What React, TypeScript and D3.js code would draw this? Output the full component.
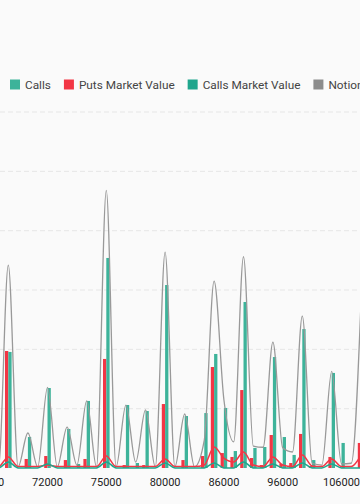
import * as d3 from "d3";
import { useMemo } from "react";

// strikes on the category axis (only every 6th is labelled)
const strikes = [
    "69000", "69500", "70000", "70500", "71000", "71500",
    "72000", "72500", "73000", "73500", "74000", "74500",
    "75000", "75500", "76000", "77000", "78000", "79000",
    "80000", "81000", "82000", "83000", "84000", "85000",
    "86000", "87000", "88000", "90000", "92000", "94000",
    "96000", "98000", "100000", "101000", "102000", "104000",
    "106000", "108000", "110000"
];

const puts = [
    0, 0, 986, 0, 76, 0, 101, 0, 67, 0, 76, 0,
    919, 0, 25, 0, 25, 0, 539, 0, 67, 0, 101, 851,
    126, 93, 657, 84, 25, 278, 34, 42, 287, 17, 0, 93,
    0, 0, 211
];

const calls = [
    0, 0, 978, 0, 261, 0, 674, 0, 329, 34, 565, 0,
    1770, 0, 531, 42, 480, 0, 1542, 0, 438, 0, 463, 961,
    506, 143, 1399, 169, 177, 935, 261, 110, 1171, 67, 0, 801,
    211, 0, 0
];

const putsMarketValue = [
    12, 12, 93, 12, 12, 12, 25, 12, 12, 12, 12, 12,
    101, 12, 12, 12, 12, 12, 76, 12, 12, 12, 25, 177,
    84, 51, 135, 25, 12, 93, 25, 12, 110, 17, 12, 76,
    12, 12, 110
];

const callsMarketValue = [
    1, 1, 51, 1, 1, 1, 34, 1, 1, 1, 1, 1,
    51, 1, 1, 1, 1, 1, 42, 1, 1, 1, 1, 42,
    1, 1, 51, 1, 1, 34, 1, 1, 42, 1, 1, 34,
    1, 1, 1
];

const notional = [
    2, 0.2, 34.2, 0.2, 5.9, 0.2, 13.6, 0.2, 6.9, 0.5, 11.3, 0.2,
    46.8, 0.2, 10.6, 1.0, 9.8, 0.2, 36.4, 0.2, 9.1, 0.2, 4.7, 31.5,
    11.5, 4.4, 35.6, 3.7, 3.5, 21.2, 3.4, 2.7, 25.6, 0.8, 0.5, 16.3,
    0.7, 0.8, 28.3
];

const legendItems = [
    { name: "Puts", color: "#f23645" },
    { name: "Calls", color: "#3db39a" },
    { name: "Puts Market Value", color: "#f23645" },
    { name: "Calls Market Value", color: "#1fa68d" },
    { name: "Notional Value", color: "#8c8c8c" }
];

const W = 360;
const H = 504;
const FONT = "Roboto, 'Noto Sans', sans-serif";
const LEGEND_SIZE = 11.8;

function measure(text, font) {
    const ctx = document.createElement("canvas").getContext("2d");
    ctx.font = font;
    return ctx.measureText(text).width;
}

const App = () => {
    const step = 9.8;
    const left = -11.3 - step / 2;
    const bottom = 468;
    const top = 112;

    const scaleX = useMemo(() => {
        return d3.scaleBand()
            .domain(strikes)
            .range([left, left + step * strikes.length])
            .padding(0);
    }, []);

    const scaleY = useMemo(() => d3.scaleLinear().domain([0, 3000]).range([bottom, top]), []);
    const scaleNotional = useMemo(() => d3.scaleLinear().domain([0, 60]).range([bottom, top]), []);

    const barW = 3.3;
    const cx = (s) => scaleX(s) + scaleX.bandwidth() / 2;

    const lineOf = (values, sy) => d3.line()
        .x((d, i) => cx(strikes[i]))
        .y(d => sy(d))
        .curve(d3.curveMonotoneX)(values);

    // legend flows left to right, "Calls" square starts at x = 10
    const legend = useMemo(() => {
        const font = `${LEGEND_SIZE}px Roboto`;
        const widths = legendItems.map(d => measure(d.name, font));
        const out = [];
        let x = 10 - 13 - widths[0] - 5 - 10;
        legendItems.forEach((d, i) => {
            out.push({ ...d, x });
            x += 10 + 5 + widths[i] + 13;
        });
        return out;
    }, []);

    const gridTicks = scaleY.ticks(6).filter(t => t > 0);

    return (
        <div style={{ position: "fixed", left: 0, top: 0, width: W, height: H, background: "#fafafa" }}>
            <svg width={W} height={H} style={{ display: "block" }}>
                {gridTicks.map(t => (
                    <line key={t} x1={0} x2={W} y1={scaleY(t)} y2={scaleY(t)}
                        stroke="#e6e6e6" strokeDasharray="5,3" />
                ))}

                {strikes.map((s, i) => (
                    <g key={s}>
                        {puts[i] > 0 && (
                            <rect x={cx(s) - barW} y={scaleY(puts[i])} width={barW}
                                height={bottom - scaleY(puts[i])} fill="#f23645" />
                        )}
                        {calls[i] > 0 && (
                            <rect x={cx(s)} y={scaleY(calls[i])} width={barW}
                                height={bottom - scaleY(calls[i])} fill="#3db39a" />
                        )}
                    </g>
                ))}

                <path d={lineOf(notional, scaleNotional)} fill="none" stroke="#999" strokeWidth={1.3} />
                <path d={lineOf(putsMarketValue, scaleY)} fill="none" stroke="#f23645" strokeWidth={1.5} />
                <path d={lineOf(callsMarketValue, scaleY)} fill="none" stroke="#1fa68d" strokeWidth={1.5} />

                {strikes.map((s, i) => i % 6 === 0 && (
                    <text key={s} x={cx(s)} y={486} textAnchor="middle"
                        fontFamily={FONT} fontSize={11} fill="#222">{s}</text>
                ))}

                {legend.map(d => (
                    <g key={d.name}>
                        <rect x={d.x} y={79.5} width={10} height={10} fill={d.color} />
                        <text x={d.x + 15} y={88.5} fontFamily={FONT} fontSize={LEGEND_SIZE} fill="#444">{d.name}</text>
                    </g>
                ))}
            </svg>
        </div>
    );
};

export default App;
